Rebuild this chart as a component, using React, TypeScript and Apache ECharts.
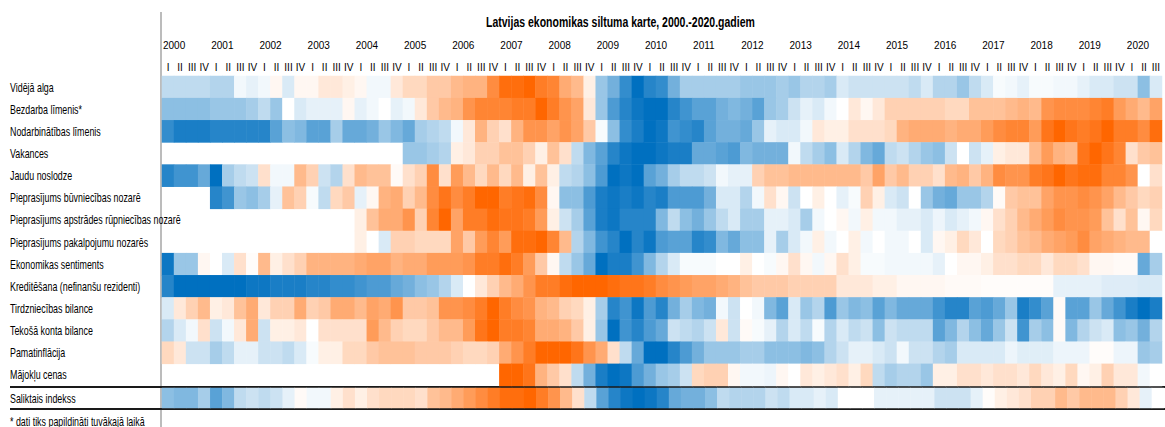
import React, { useEffect, useRef } from "react";
import * as echarts from "echarts";

// ---- categories / tick labels ----
const yearLabels = ["2000","2001","2002","2003","2004","2005","2006","2007","2008","2009","2010","2011","2012","2013","2014","2015","2016","2017","2018","2019","2020"];
const quarterLabels = ["I", "II", "III", "IV"];
const lastYearQuarters = 3;
const quarters: string[] = yearLabels.flatMap((y, i) =>
  quarterLabels.slice(0, i === yearLabels.length - 1 ? lastYearQuarters : 4).map((q) => `${y} ${q}`)
);

const titleText = "Latvijas ekonomikas siltuma karte, 2000.-2020.gadiem";
const footnoteText = "* dati tiks papildināti tuvākajā laikā";

const indicatorNames = [
  "Vidējā alga",
  "Bezdarba līmenis*",
  "Nodarbinātības līmenis",
  "Vakances",
  "Jaudu noslodze",
  "Pieprasījums būvniecības nozarē",
  "Pieprasījums apstrādes rūpniecības nozarē",
  "Pieprasījums pakalpojumu nozarēs",
  "Ekonomikas sentiments",
  "Kreditēšana (nefinanšu rezidenti)",
  "Tirdzniecības bilance",
  "Tekošā konta bilance",
  "Pamatinflācija",
  "Mājokļu cenas",
];
const compositeName = "Saliktais indekss";

const N = null;
// heat values: -10 = coldest (blue), 0 = neutral, +10 = hottest (orange)
const videjaAlga = [-2.5,-2.5,-2.5,-2.5,-3,-3,-0.5,-1,-0.5,0.5,-1.5,0.5,0.5,1.5,1.5,1,0.5,-0.5,-0.5,1.5,2.5,
  2.5,3.5,3.5,4.5,5,5,7.5,9.5,9.5,10,8.5,8,5.5,4.5,1,-4,-5.5,-8,-10,-8.5,-8,
  -5.5,-3.5,-3.5,-3.5,-3.5,-3.5,-4,-4,-4,-3.5,-4,-3,-3,-3.5,-1.5,-2,-2,-2,-2,-2,-2.5,
  -1.5,-3,-3,-4,-2.5,-1.5,-0.3,-0.5,-1,-0.3,-0.3,-0.5,-0.5,-1,-1.5,-1.5,-2,-2,-4.5,-1.5];
const bezdarbs = [-4.5,-4.5,-4.5,-4.5,-4,-4,-4,-3.5,-2.5,-4,0,-1.5,-1,-1,-1,0.5,-1,-0.5,0,-1,-0.5,
  1.5,3.5,4.5,5,7,8,8,8,8.5,8.5,10,8.5,7,6,1.5,-4,-7,-8.5,-9.5,-10,-10,
  -8.5,-7.5,-6.5,-6.5,-5.5,-5,-5.5,-6.5,-4,-3.5,-2,-1,-1.5,-0.5,0,1.5,0.5,1.5,3,3,3,
  3,3,2.5,2.5,4,4,4,4.5,5,4.5,7,7.5,7.5,7.5,8,8.5,6.5,5.5,4.5,6];
const nodarbinatiba = [-8,-9,-9,-9,-8.5,-8.5,-8.5,-8.5,-8.5,-6.5,-4.5,-5,-6.5,-6.5,-3.5,-6,-6,-5.5,-4,-5,-6,
  -3.5,-3,-2.5,-0.5,1.5,5,3,2,5,7,7,6,7,6,3.5,-0.3,-4.5,-8,-9,-10,-9.5,
  -7.5,-8,-8.5,-6.5,-5.5,-5.5,-6,-4,-1,-1.5,-1.5,-0.5,1.5,1,1,2,2,2,2.5,5,5.5,
  5.5,5.5,5,5.5,5.5,6.5,7.5,8,8,6.5,9,10,9,8.5,9,10,8.5,8.5,7.5,9.5];
const vakances = [N,N,N,N,N,N,N,N,N,N,N,N,N,N,N,N,N,N,N,N,-4,
  -4,-3.5,-3,1,1.5,3,3,4,4,3,1,4,2,-2.5,-5,-6.5,-8.5,-9.5,-10,-10,-9.5,
  -9,-9,-6,-6,-6.5,-7,-5,-5.5,-5.5,-5.5,-0.5,-2.5,-3.5,-4.5,-1.5,-3,-5,-6,-2.5,-2,-3,
  -4,-4.5,-2,0,-2,-1,1,1.5,1.5,4.5,6.5,5,4.5,9,10,9,8,2,3.5,4];
const jauduNoslodze = [-8.5,-7.5,-7.5,-6,-10,-3.5,-2.5,-2,2,-0.5,-0.5,4.5,3,-2,-3,2,4.5,4,4,0.3,2,
  3,7.5,2,6.5,4.5,2.5,4.5,2.5,4.5,1,4,1,-2.5,-3,-4.5,-7,-10,-9.5,-10,-6.5,-5.5,
  -3.5,-2.5,-2.5,-2,-0.5,-1,-1,3,4,4,4.5,4.5,4.5,4.5,4.5,4.5,3.5,6,3.5,4.5,3,
  3,2,4.5,5,3.5,5,7.5,7,7,8.5,9,10,9,9.5,9.5,8,8,7,0,2];
const buvnieciba = [N,N,N,N,-8.5,-7.5,-4,-4.5,-3.5,-1,4,3,-0.3,-2.5,2.5,3.5,-1,0.5,5,5.5,3,
  4.5,7.5,9,7.5,8.5,10,10,8.5,9,9.5,7.5,0.5,-4.5,-4.5,-7,-9,-9.5,-9,-9.5,-8.5,-9,
  -7,-7,-7,-5.5,-1.5,-1.5,-3,-0.5,2,0.5,-2,0,1,0,-1,-0.3,3,1,-1.5,-2,0,
  -4,-5.5,-6,-4,-4,-3,0.3,3.5,4,4,6,7,7,7.5,7,6,4.5,3.5,2.5,3];
const apstrade = [N,N,N,N,N,N,N,N,N,N,N,N,N,N,N,N,1,4,5.5,5.5,7,
  3,8,10,6,8.5,8.5,9.5,9,9,8.5,6.5,1,-2,-3.5,-6.5,-9,-9.5,-8.5,-8.5,-8.5,-5,
  -2.5,-4.5,-5.5,-4,-2.5,-1.5,-3.5,-3.5,-1,-1,-1.5,-3.5,-0.5,0,0.5,-0.5,1,-0.5,-0.5,-1,-1,
  -1.5,-0.7,-1.5,-1,-0.5,0.5,2,3,4.5,5.5,6.5,7.5,7,7,6.5,4,2,4,0.5,2.5];
const pakalpojumi = [N,N,N,N,N,N,N,N,N,N,N,N,N,N,N,N,1,0,-1.5,3,3,
  2.5,2.5,2.5,6,3.5,6.5,8,6.5,9.5,9.5,10,8,4.5,-3,-5,-7.5,-8.5,-10,-8.5,-9.5,-7,
  -6.5,-6.5,-8.5,-8,-5,-6,-4.5,-4.5,-1,-3.5,-1.5,-0.5,1,-0.5,0,1,-0.5,0,-0.5,-0.5,0,
  -1.5,0.5,1,2.5,1.5,0,2.5,3,4,4.5,5.5,6,6.5,7.5,6,5.5,5,4.5,4.5,0];
const sentiments = [-9.5,-4,-4,0.5,0,-1.5,2,0.2,4.5,1,2,3,5,5,5,5,5.5,6,6,5,5.5,
  5.5,6.5,6.5,6.5,7,8.5,8.5,9.5,8.5,6.5,3.5,0.5,-2.5,-4,-6,-10,-9,-9,-7.5,-5,-3,
  -1.5,-0.3,-0.3,-0.3,0,0,1,0,-0.3,0.5,2,0.5,-0.5,0.5,2,1,-0.3,-0.3,-0.5,-0.5,-0.5,
  -0.5,-1,0,0.5,0.5,1,2,2,2.5,2.5,1.5,2.5,2.5,2,0.5,0.5,0.3,0.3,-6,-3.5];
const kreditesana = [-8.5,-10,-10,-10,-10,-10,-10,-9.5,-9.5,-9,-9,-9,-8.5,-8.5,-8,-8,-7.5,-7,-7,-6,-5.5,
  -4.5,-4,-3,-1.5,0,1.5,3,4.5,5.5,7,8.5,8.5,9.5,10,10,10,9.5,9,9,8.5,7.5,
  7,6.5,6,6,5.5,5,4,3.5,3.5,3.5,3,3,3,3,1.5,1.5,1.5,1,1,0.5,0.5,
  0.5,0.5,0.3,0.3,0.3,0.2,0.2,0.2,0.2,0.2,0.2,-1,-1,-1,-1,-1.3,-1.3,-1.3,-1.5,-1.5];
const tirdzniecibasBilance = [-1.5,1.5,3,4.5,1,1.5,4,5.5,1.5,3,3,5.5,3,3.5,5.5,5.5,4.5,6,5.5,7,3.5,
  3.5,4,7,7,7.5,8.5,10,8.5,7.5,7,5,4.5,3,2.5,1,-3.5,-8.5,-7.5,-9.5,-7,-8.5,
  -5.5,-3.5,-5,-5.5,-0.5,-2,0,-0.5,-5,-6.5,-1.5,-4,-3,-7,-4,-5,-4.5,-6.5,-5,-6,-6,
  -6,-7.5,-8.5,-8.5,-6.5,-7,-6,-4,-9,-8,-6.5,0.3,-6.5,-6.5,-4,-6,-7.5,-9,-10,-9];
const tekosaisKonts = [-3,-1.5,-0.5,2,-2,-0.5,1.5,5.5,-2,1,1,1.5,0,2,2,2,2,6.5,4.5,3,2.5,
  2.5,3.5,4.5,4.5,6.5,9,10,8.5,8.5,8,5.5,5.5,5,3.5,1,-4,-10,-7.5,-8.5,-7,-6,
  -2,-2.5,-3,-2,1.5,-2,0.3,-0.3,-1,-3,-1.5,-2.5,-0.3,-3,-1.5,-2.5,-2,-4.5,-2,-2.5,-2.5,
  -2.5,-6.5,-5,-3,-4.5,-6,-4,-2,-7.5,-3.5,-4.5,0.3,-5,-3,-2,-1.5,-4.5,-4,-5.5,-3];
const pamatinflacija = [2.5,1.5,-2,-2,-3.5,-2.5,-1,-1,-2,-2,-2.5,-1.5,-0.3,1,1,2.5,2.5,3.5,4,4,4,
  3.5,3.5,3.5,3,2.5,2.5,3,5.5,7,8.5,10,10,10,9,7,5.5,2,-2.5,-6,-10,-10,
  -8.5,-7,-5.5,-4,-4,-4,-3.5,-3.5,-4.5,-4.5,-4.5,-5,-4.5,-3,-2,-1,-1,-1.5,-2,-0.5,-2,
  -2,-3,-3.5,-1.5,-1.5,-1.5,-1.5,-0.7,-1.2,-1.2,-1.2,-0.7,-0.7,-0.7,0.2,0.2,-0.7,-0.7,-4,-3.5];
const majoklaCenas = [N,N,N,N,N,N,N,N,N,N,N,N,N,N,N,N,N,N,N,N,N,
  N,N,N,N,N,N,N,10,10,9,5,3.5,2,-2.5,-5.5,-9,-10,-9.5,-7,-5.5,-4,
  -3.5,-2,2.5,3,3,0.5,-0.5,-0.5,-0.7,0.5,0,1.5,1,1.5,2,1,2.5,-2.5,-3.5,-3,-3,
  -4,1,1,2,2,1.5,2,2,1.5,2.5,1.5,1,2.5,0.5,1,3,1.5,1.5,-0.5,0];
const saliktaisIndekss = [-4.5,-5,-5,-3.5,-6.5,-5,-2.5,-2,-2.5,-2,-1,0.3,-0.5,-0.5,1,2,1,2,2.5,2.5,2.5,
  2,4,4.5,5.5,6.5,7.5,8.5,9.5,9.5,10,8.5,7,4.5,2,-2.5,-6.5,-8.5,-9.5,-10,-9.5,-8.5,
  -6,-5.5,-5.5,-4.5,-2.5,-3,-3,-3,-2,-2.5,-1.5,-1.5,-1,-1.5,0,0,0,-1,-1,-1,-1,
  -1,-2,-2,-2,-1,0.2,1,1.5,2,3,3,4.5,3.5,4.5,4.5,4.5,3,1.5,-1,0];

const indicatorRows = [videjaAlga, bezdarbs, nodarbinatiba, vakances, jauduNoslodze, buvnieciba, apstrade,
  pakalpojumi, sentiments, kreditesana, tirdzniecibasBilance, tekosaisKonts, pamatinflacija, majoklaCenas];

const AXIS_FONT = "'Liberation Sans', Arial, sans-serif";
const SQUEEZE = 0.74;

function toCells(rows: (number | null)[][]) {
  const out: [number, number, number][] = [];
  rows.forEach((row, r) => row.forEach((v, c) => { if (v !== null && v !== undefined) out.push([c, r, v]); }));
  return out;
}

function squeezedText(text: string, x: number, y: number, size: number, bold: boolean, scaleX: number) {
  return {
    type: "text", x, y, scaleX, z: 100,
    style: {
      text,
      font: `${bold ? "bold " : ""}${size}px ${AXIS_FONT}`,
      fill: "#000",
      align: "left",
      verticalAlign: "middle",
    },
  };
}

export default function App() {
  const ref = useRef<HTMLDivElement>(null);
  useEffect(() => {
    if (!ref.current) return;
    const chart = echarts.init(ref.current, undefined, { renderer: "svg" });
    const gridLeft = 162;
    const gridWidth = 1002;
    chart.setOption({
      animation: false,
      backgroundColor: "#ffffff",
      grid: [
        { left: gridLeft, width: gridWidth, top: 76, height: 310 },
        { left: gridLeft, width: gridWidth, top: 388, height: 20 },
      ],
      xAxis: [
        {
          type: "category", gridIndex: 0, data: quarters, position: "top",
          axisLine: { show: false }, axisTick: { show: false }, splitLine: { show: false },
          axisLabel: {
            interval: 0, margin: 4, fontSize: 10, fontFamily: AXIS_FONT, color: "#000",
            formatter: (v: string) => v.split(" ")[1],
          },
        },
        {
          type: "value", gridIndex: 0, min: 0, max: quarters.length, interval: 4, position: "top", offset: 23,
          axisLine: { show: false }, axisTick: { show: false }, splitLine: { show: false },
          axisLabel: {
            align: "left", margin: 3, fontSize: 10, fontFamily: AXIS_FONT, color: "#000", padding: [0, 0, 0, 1],
            formatter: (v: number) => (v % 4 === 0 && v / 4 < yearLabels.length ? yearLabels[v / 4] : ""),
          },
        },
        { type: "category", gridIndex: 1, data: quarters, show: false },
      ],
      yAxis: [
        {
          type: "category", gridIndex: 0, data: indicatorNames, inverse: true,
          axisLine: { show: false }, axisTick: { show: false }, splitLine: { show: false },
          axisLabel: { show: false },
        },
        {
          type: "category", gridIndex: 1, data: [compositeName],
          axisLine: { show: false }, axisTick: { show: false }, splitLine: { show: false },
          axisLabel: { show: false },
        },
      ],
      visualMap: {
        type: "continuous", show: false, min: -10, max: 10, seriesIndex: [0, 1],
        inRange: { color: ["#0070C0", "#FFFFFF", "#FF6600"] },
      },
      series: [
        {
          type: "heatmap", xAxisIndex: 0, yAxisIndex: 0, data: toCells(indicatorRows),
          itemStyle: { borderWidth: 0 }, emphasis: { disabled: true },
        },
        {
          type: "heatmap", xAxisIndex: 2, yAxisIndex: 1, data: toCells([saliktaisIndekss]),
          itemStyle: { borderWidth: 0 }, emphasis: { disabled: true },
        },
      ],
    });

    // row labels placed at the category positions given by the y axes
    const rowLabels = indicatorNames.map((name) =>
      squeezedText(name, 10, chart.convertToPixel({ yAxisIndex: 0 }, name) as number, 12, false, SQUEEZE)
    );
    rowLabels.push(
      squeezedText(compositeName, 10, chart.convertToPixel({ yAxisIndex: 1 }, compositeName) as number, 12, false, SQUEEZE)
    );

    chart.setOption({
      graphic: [
        { type: "line", shape: { x1: 161, y1: 12, x2: 161, y2: 427 }, style: { stroke: "#a6a6a6", lineWidth: 1.5 } },
        { type: "line", shape: { x1: 10, y1: 387, x2: 1165, y2: 387 }, style: { stroke: "#1a1a1a", lineWidth: 2 } },
        { type: "line", shape: { x1: 10, y1: 409, x2: 1165, y2: 409 }, style: { stroke: "#1a1a1a", lineWidth: 2 } },
        squeezedText(titleText, 486, 22, 15, true, 0.7),
        ...rowLabels,
        squeezedText(footnoteText, 10, 421, 12, false, SQUEEZE),
      ],
    });
    return () => chart.dispose();
  }, []);
  return <div ref={ref} style={{ position: "absolute", left: 0, top: 0, width: 1165, height: 427 }} />;
}
